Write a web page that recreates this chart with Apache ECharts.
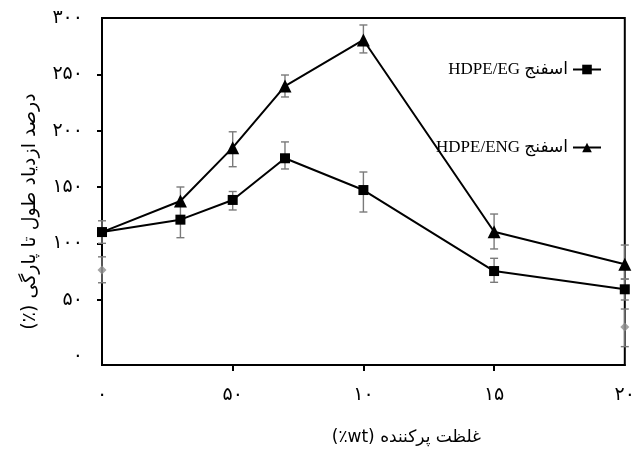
<!DOCTYPE html>
<html>
<head>
<meta charset="utf-8">
<script src="https://cdn.jsdelivr.net/npm/echarts@6/dist/echarts.min.js"></script>
<style>
  html, body { margin: 0; padding: 0; background: #fff; }
  #chart { width: 638px; height: 452px; }
</style>
</head>
<body>
<div id="chart"></div>
<script>
// Filler loading (x) and elongation at break (%) with error bars
const xValues = [0, 0.3, 0.5, 0.7, 1, 1.5, 2];

const egName = '\u202Bاسفنج HDPE/EG\u202C';
const egValues = [110, 121, 138.5, 175.5, 147.3, 75.4, 59.2];
const egLow    = [100, 105, 129.6, 166, 127.8, 65.4, 49.7];
const egHigh   = [120, 150, 146, 190, 163.3, 86.7, 68.3];

const engName = '\u202Bاسفنج HDPE/ENG\u202C';
const engValues = [110, 137.6, 184.9, 239.6, 280.5, 110.3, 81.4];
const engLow    = [null, null, 168, 229.9, 269, 95, 68.3];
const engHigh   = [null, null, 199, 249.4, 293.8, 126, 98.5];

// faint grey reference points sitting on the frame edges
const refX      = [0, 2];
const refValues = [76.3, 25.7];
const refLow    = [65, 8.3];
const refHigh   = [88, 41.7];

const xTickValues = [0, 0.5, 1, 1.5, 2];
const xTickLabels = ['۰', '۵۰', '۱۰', '۱۵', '۲۰'];
const yTickValues = [0, 50, 100, 150, 200, 250, 300];
const yTickLabels = ['۰', '۵۰', '۱۰۰', '۱۵۰', '۲۰۰', '۲۵۰', '۳۰۰'];

const xTitle = '\u202Bغلظت پرکننده (wt٪)\u202C';
const yTitle = '\u202Bدرصد ازدیاد طول تا پارگی (٪)\u202C';

function pairs(xs, ys) {
  return xs.map((x, i) => [x, ys[i]]);
}
function errTriples(xs, lo, hi) {
  const out = [];
  xs.forEach((x, i) => { if (lo[i] != null && hi[i] != null) out.push([x, lo[i], hi[i]]); });
  return out;
}

function errorBarRender(params, api) {
  const x = api.value(0);
  const lo = api.coord([x, api.value(1)]);
  const hi = api.coord([x, api.value(2)]);
  const cap = 4;
  const style = { stroke: '#7a7a7a', lineWidth: 1.4 };
  return {
    type: 'group',
    children: [
      { type: 'line', shape: { x1: hi[0], y1: hi[1], x2: lo[0], y2: lo[1] }, style },
      { type: 'line', shape: { x1: hi[0] - cap, y1: hi[1], x2: hi[0] + cap, y2: hi[1] }, style },
      { type: 'line', shape: { x1: lo[0] - cap, y1: lo[1], x2: lo[0] + cap, y2: lo[1] }, style }
    ]
  };
}

const engData = pairs(xValues, engValues).map((p, i) =>
  i === 0 ? { value: p, symbol: 'none' } : p);

const chart = echarts.init(document.getElementById('chart'), null, { renderer: 'canvas' });

const labelFont = 'DejaVu Sans, Noto Sans, sans-serif';

chart.setOption({
  animation: false,
  backgroundColor: '#fff',
  grid: {
    left: 102, right: 13, top: 18, bottom: 87,
    show: true, borderColor: '#000', borderWidth: 2
  },
  legend: {
    data: [egName, engName],
    orient: 'vertical',
    align: 'right',
    right: 31,
    top: 56,
    itemGap: 61,
    itemWidth: 28,
    itemHeight: 12,
    textStyle: { fontFamily: 'Liberation Serif, DejaVu Sans, serif', fontSize: 17, color: '#000' }
  },
  xAxis: {
    type: 'value',
    min: 0, max: 2,
    name: xTitle,
    nameLocation: 'middle',
    nameGap: 64,
    nameTextStyle: { fontFamily: labelFont, fontSize: 17, color: '#000', padding: [0, 0, 0, 86] },
    axisLine: { show: true, onZero: false, lineStyle: { color: '#000', width: 2 } },
    axisTick: { show: true, customValues: [0.5, 1, 1.5], length: 6, lineStyle: { color: '#000', width: 2 } },
    axisLabel: {
      customValues: xTickValues,
      formatter: v => xTickLabels[xTickValues.indexOf(v)],
      margin: 21,
      fontFamily: labelFont, fontSize: 19, color: '#000'
    },
    splitLine: { show: false }
  },
  yAxis: {
    type: 'value',
    min: -8, max: 300,
    name: yTitle,
    nameLocation: 'middle',
    nameGap: 62,
    nameTextStyle: { fontFamily: labelFont, fontSize: 19, color: '#000', padding: [0, 40, 0, 0] },
    axisLine: { show: true, lineStyle: { color: '#000', width: 2 } },
    axisTick: { show: true, customValues: [50, 100, 150, 200, 250], length: 5, lineStyle: { color: '#000', width: 2 } },
    axisLabel: {
      customValues: yTickValues,
      formatter: v => yTickLabels[yTickValues.indexOf(v)],
      margin: 19,
      fontFamily: labelFont, fontSize: 19, color: '#000'
    },
    splitLine: { show: false }
  },
  series: [
    {
      type: 'custom', name: 'refErr', renderItem: errorBarRender,
      data: errTriples(refX, refLow, refHigh), encode: { x: 0, y: [1, 2] }, z: 1, silent: true
    },
    {
      type: 'scatter', name: 'ref', data: pairs(refX, refValues),
      symbol: 'diamond', symbolSize: 9, itemStyle: { color: '#8c8c8c' }, z: 2, silent: true
    },
    {
      type: 'custom', name: 'engErr', renderItem: errorBarRender,
      data: errTriples(xValues, engLow, engHigh), encode: { x: 0, y: [1, 2] }, z: 3, silent: true
    },
    {
      type: 'custom', name: 'egErr', renderItem: errorBarRender,
      data: errTriples(xValues, egLow, egHigh), encode: { x: 0, y: [1, 2] }, z: 3, silent: true
    },
    {
      type: 'line', name: engName, data: engData,
      symbol: 'triangle', symbolSize: 13, showAllSymbol: true,
      lineStyle: { color: '#000', width: 2 }, itemStyle: { color: '#000' }, z: 5
    },
    {
      type: 'line', name: egName, data: pairs(xValues, egValues),
      symbol: 'rect', symbolSize: 10, showAllSymbol: true,
      lineStyle: { color: '#000', width: 2 }, itemStyle: { color: '#000' }, z: 6
    }
  ]
});
</script>
</body>
</html>
